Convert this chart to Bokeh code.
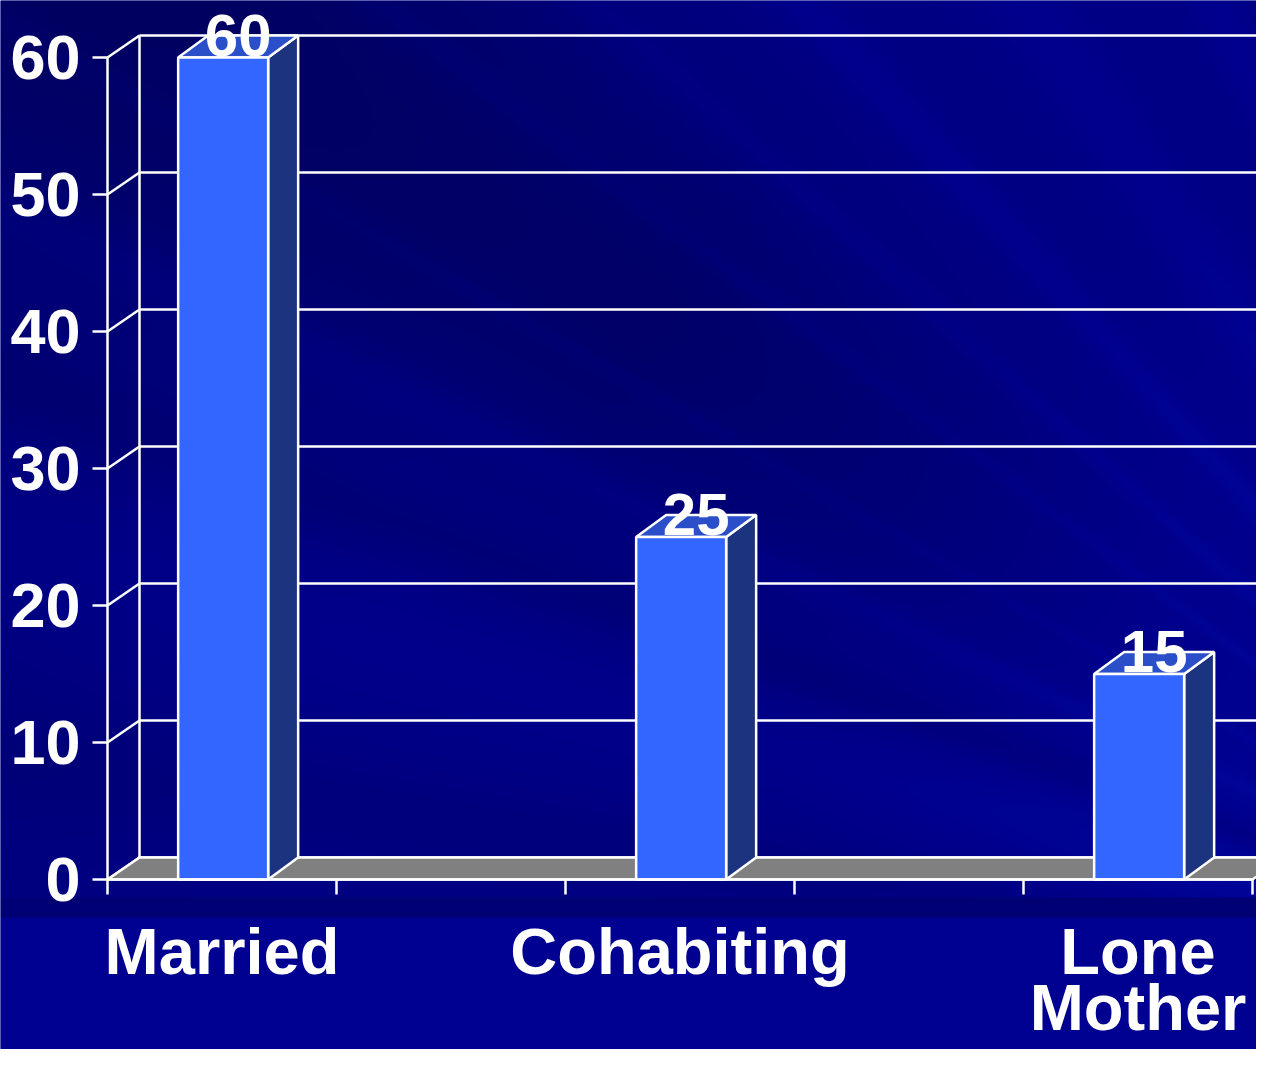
import numpy as np
from bokeh.plotting import figure
from bokeh.models import Range1d
from bokeh.core.properties import value
from bokeh.embed import file_html
from bokeh.resources import INLINE

# ---------------- data ----------------
categories = ["Married", "Cohabiting", "Lone Mother"]
values = [60, 25, 15]
y_ticks = [0, 10, 20, 30, 40, 50, 60]
y_tick_labels = ["0", "10", "20", "30", "40", "50", "60"]
slots = [0, 2, 4]          # category slot index on the 5-slot x axis
n_slots = 5

# ---------------- geometry / style ----------------
PX = 229.0     # pixels per x unit
PY = 13.7      # pixels per y unit
OX, OY = 107.0, 879.0  # pixel position of the origin
W, H = 1256, 1049

x_start = -OX / PX
x_end = x_start + W / PX
y_end = OY / PY
y_start = y_end - H / PY

DX = 32.0 / PX   # depth of the wall/floor
DY = 22.0 / PY
BDX = 30.0 / PX  # depth of the bars
BW = 90.0 / PX   # bar front width
BOFF = 0.505     # front-face centre inside slot
LW = 2.5

BG = "#000084"
WHITE = "#ffffff"
FRONT = "#3366ff"
TOP = "#2a4fc8"
SIDE = "#1c347f"
FLOOR = "#808080"
FONT = value("Liberation Sans")

p = figure(width=W, height=H, x_range=Range1d(x_start, x_end),
           y_range=Range1d(y_start, y_end), output_backend="svg",
           toolbar_location=None, min_border=0, x_axis_type=None,
           y_axis_type=None, background_fill_color=BG,
           border_fill_color=BG, outline_line_color=None)
p.grid.visible = False

# ---------------- background (decorative streaked gradient) ----------------
gx, gy = np.meshgrid(np.arange(0, W, 2) + 1.0, np.arange(0, H, 2) + 1.0)
Fx, Fy = 1700.0, 1000.0
phi = np.degrees(np.arctan2(gy - Fy, gx - Fx)) % 360
d = np.hypot(gx - Fx, gy - Fy)
b = np.full(gx.shape, 132.0)
b += 14 * np.clip((950 - d) / 500, 0, 1)
b -= 28 * np.exp(-((phi - 213) / 9) ** 2) * np.clip((d - 650) / 600, 0, 1)
b -= 8 * np.clip((d - 1400) / 500, 0, 1)
for ang, wid, amp in [(228, 1.2, 10), (236, 2.0, 9), (244, 1.5, 10),
                      (250, 2.5, 8), (222, 0.8, 8), (205, 1.0, 8),
                      (200, 1.5, -10), (195, 3.0, 7), (188, 2.0, -8),
                      (217, 0.6, 7), (210, 0.5, 6)]:
    b += amp * np.exp(-((phi - ang) / wid) ** 2)
b = np.where(gy > 918, 144.0, b)
b = np.where((gy > 897) & (gy <= 918), 116.0, b)
b = np.clip(b, 88, 165)
g = np.clip((b - 140) * 0.4, 0, 40)
img = (np.uint32(255) << 24) | (b.astype(np.uint32) << 16) | (g.astype(np.uint32) << 8)
img = np.flipud(img)
p.image_rgba(image=[img], x=x_start, y=y_start, dw=x_end - x_start,
             dh=y_end - y_start)

# ---------------- back wall, side wall, grid ----------------
p.segment(x0=[DX], y0=[DY], x1=[DX], y1=[max(y_ticks) + DY],
          line_color=WHITE, line_width=LW)
p.segment(x0=[DX] * len(y_ticks), y0=[t + DY for t in y_ticks],
          x1=[x_end + 1] * len(y_ticks), y1=[t + DY for t in y_ticks],
          line_color=WHITE, line_width=LW)
p.segment(x0=[0] * len(y_ticks), y0=y_ticks,
          x1=[DX] * len(y_ticks), y1=[t + DY for t in y_ticks],
          line_color=WHITE, line_width=LW)

# floor
p.patch([0, DX, n_slots + DX, n_slots], [0, DY, DY, 0],
        fill_color=FLOOR, line_color=WHITE, line_width=LW)

# ---------------- bars ----------------
for s, v in zip(slots, values):
    x0 = s + BOFF - BW / 2
    x1 = s + BOFF + BW / 2
    p.patch([x1, x1 + BDX, x1 + BDX, x1], [0, DY, v + DY, v],
            fill_color=SIDE, line_color=WHITE, line_width=LW)
    p.patch([x0, x0 + BDX, x1 + BDX, x1], [v, v + DY, v + DY, v],
            fill_color=TOP, line_color=WHITE, line_width=LW)
    p.quad(left=[x0], right=[x1], bottom=[0], top=[v],
           fill_color=FRONT, line_color=WHITE, line_width=LW)

# ---------------- axes ----------------
p.segment(x0=[0], y0=[0], x1=[0], y1=[max(y_ticks)], line_color=WHITE, line_width=LW)
p.segment(x0=[0], y0=[0], x1=[n_slots], y1=[0], line_color=WHITE, line_width=LW)
p.segment(x0=[-15 / PX] * len(y_ticks), y0=y_ticks, x1=[0] * len(y_ticks),
          y1=y_ticks, line_color=WHITE, line_width=LW)
xt = list(range(n_slots + 1))
p.segment(x0=xt, y0=[0] * len(xt), x1=xt, y1=[-15 / PY] * len(xt),
          line_color=WHITE, line_width=LW)

# y tick labels
p.text(x=[(80 - OX) / PX] * len(y_ticks), y=y_ticks, text=y_tick_labels,
       text_font=FONT, text_font_style="bold", text_font_size="63px",
       text_color=WHITE, text_align="right", text_baseline="middle")

# category labels (the two-word label wraps onto two lines)
line_centres = [951.0, 1007.0]
for s, name in zip(slots, categories):
    words = name.split(" ") if name == "Lone Mother" else [name]
    for i, w in enumerate(words):
        p.text(x=[s + 0.5], y=[(OY - line_centres[i]) / PY], text=[w],
               text_font=FONT, text_font_style="bold", text_font_size="65px",
               text_color=WHITE, text_align="center", text_baseline="middle")

# value labels (sit just above the bar tops)
p.text(x=[s + BOFF + BDX / 2 for s in slots], y=[v + 22.5 / PY for v in values],
       text=[str(v) for v in values], text_font=FONT, text_font_style="bold",
       text_font_size="60px", text_color=WHITE, text_align="center",
       text_baseline="middle")

open("out.html", "w").write(file_html(p, INLINE))
